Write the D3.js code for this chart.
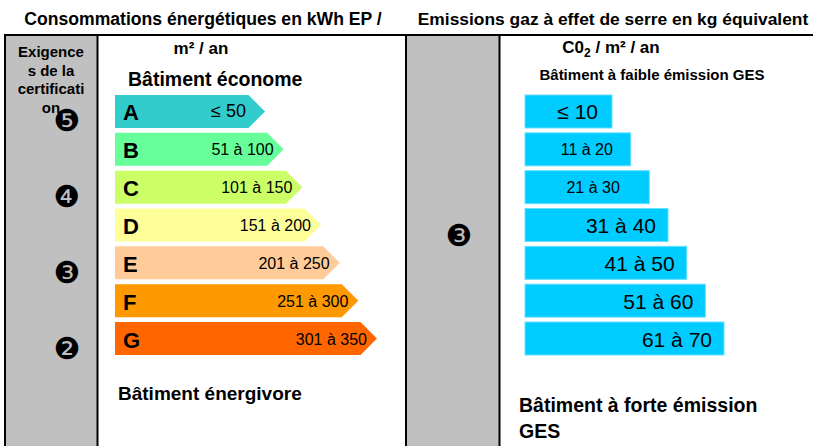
<!DOCTYPE html>
<html>
<head>
<meta charset="utf-8">
<script src="https://cdn.jsdelivr.net/npm/d3@7"></script>
<style>
  body { margin: 0; background: #fff; }
  svg { display: block; font-family: "Liberation Sans", Arial, sans-serif; }
</style>
</head>
<body>
<div id="chart"></div>
<script>
// Energy classes (kWh EP / m² / an)
const energyClasses = ["A", "B", "C", "D", "E", "F", "G"];
const energyUpper = [50, 100, 150, 200, 250, 300, 350];
const energyLabels = ["≤ 50", "51 à 100", "101 à 150", "151 à 200", "201 à 250", "251 à 300", "301 à 350"];

// GES classes (kg équivalent CO2 / m² / an)
const gesUpper = [10, 20, 30, 40, 50, 60, 70];
const gesLabels = ["≤ 10", "11 à 20", "21 à 30", "31 à 40", "41 à 50", "51 à 60", "61 à 70"];

// Certification requirements (circled numbers) and the class they sit against
const certEnergy = [{ mark: "❺", cls: "A" }, { mark: "❹", cls: "C" }, { mark: "❸", cls: "E" }, { mark: "❷", cls: "G" }];
const certGes = [{ mark: "❸", cls: "D" }];

const width = 813, height = 446;

const svg = d3.select("#chart")
    .append("svg")
    .attr("width", width)
    .attr("height", height);

// Palette
const color = d3.scaleOrdinal()
    .domain(energyClasses)
    .range(["#33CCCC", "#66FF99", "#CCFF66", "#FFFF99", "#FFCC99", "#FF9900", "#FF6600"]);

// Scales
const y = d3.scaleBand()
    .domain(energyClasses)
    .range([95, 355])
    .paddingInner(0.128)
    .paddingOuter(0);

const xE = d3.scaleLinear().domain([50, 350]).range([265, 377]);
const xG = d3.scaleLinear().domain([10, 70]).range([612, 724]);
const eLeft = 115, gLeft = 525;

// Grey columns
svg.append("rect").attr("x", 5).attr("y", 35).attr("width", 92).attr("height", height).attr("fill", "#C0C0C0");
svg.append("rect").attr("x", 407).attr("y", 35).attr("width", 92).attr("height", height).attr("fill", "#C0C0C0");

// Frame lines
const lines = [
    [4, 35, 813, 35],
    [5, 35, 5, height],
    [97.5, 35, 97.5, height],
    [406, 35, 406, height],
    [499.5, 35, 499.5, height]
];
svg.selectAll(".frame")
    .data(lines)
    .join("line")
    .attr("x1", d => d[0]).attr("y1", d => d[1])
    .attr("x2", d => d[2]).attr("y2", d => d[3])
    .attr("stroke", "#000")
    .attr("stroke-width", 2);

// Titles
function label(x, yy, txt, size, anchor) {
    return svg.append("text")
        .attr("x", x).attr("y", yy)
        .attr("text-anchor", anchor || "middle")
        .attr("font-weight", "bold")
        .attr("font-size", size)
        .attr("fill", "#000")
        .text(txt);
}
label(203, 25, "Consommations énergétiques en kWh EP /", 17.6);
label(201, 54, "m² / an", 17);
label(613, 25, "Emissions gaz à effet de serre en kg équivalent", 17.4);
const co2 = label(611, 53, "C0", 17);
co2.append("tspan").attr("font-size", 12).attr("dy", 4).text("2");
co2.append("tspan").attr("dy", -4).text(" / m² / an");
label(128, 86, "Bâtiment économe", 19.5, "start");
label(652, 80, "Bâtiment à faible émission GES", 15);
label(118, 400, "Bâtiment énergivore", 19, "start");
label(519, 412, "Bâtiment à forte émission", 19.5, "start");
label(519, 438, "GES", 19.5, "start");

// "Exigences de la certification" header
["Exigence", "s de la", "certificati", "on"].forEach((t, i) => {
    label(51, 57 + i * 18.5, t, 15);
});

// Energy arrows
const eData = energyClasses.map((c, i) => ({ cls: c, upper: energyUpper[i], label: energyLabels[i] }));
const depth = y.bandwidth() / 2;

svg.selectAll(".energy")
    .data(eData)
    .join("path")
    .attr("class", "energy")
    .attr("fill", d => color(d.cls))
    .attr("d", d => {
        const y0 = y(d.cls), y1 = y0 + y.bandwidth(), tip = xE(d.upper);
        return `M${eLeft},${y0}L${tip - depth},${y0}L${tip},${(y0 + y1) / 2}L${tip - depth},${y1}L${eLeft},${y1}Z`;
    });

svg.selectAll(".eLetter")
    .data(eData)
    .join("text")
    .attr("class", "eLetter")
    .attr("x", eLeft + 8)
    .attr("y", d => y(d.cls) + y.bandwidth() / 2 + 9)
    .attr("font-weight", "bold")
    .attr("font-size", 22)
    .text(d => d.cls);

svg.selectAll(".eRange")
    .data(eData)
    .join("text")
    .attr("class", "eRange")
    .attr("text-anchor", "end")
    .attr("x", (d, i) => xE(d.upper) - (i === 0 ? 19 : 10))
    .attr("y", (d, i) => y(d.cls) + y.bandwidth() / 2 + 6)
    .attr("font-size", (d, i) => i === 0 ? 18 : 16)
    .text(d => d.label);

// GES bars
const gData = energyClasses.map((c, i) => ({ cls: c, upper: gesUpper[i], label: gesLabels[i] }));

svg.selectAll(".ges")
    .data(gData)
    .join("rect")
    .attr("class", "ges")
    .attr("x", gLeft)
    .attr("y", d => y(d.cls))
    .attr("width", d => xG(d.upper) - gLeft)
    .attr("height", y.bandwidth())
    .attr("fill", "#00CCFF")
    .attr("stroke", "#66E0FF")
    .attr("stroke-width", 1);

svg.selectAll(".gRange")
    .data(gData)
    .join("text")
    .attr("class", "gRange")
    .attr("text-anchor", (d, i) => (i === 1 || i === 2) ? "middle" : "end")
    .attr("x", (d, i) => {
        const r = xG(d.upper);
        if (i === 1 || i === 2) return (gLeft + r) / 2 + 9 - (i - 1) * 3;
        return r - (i === 0 ? 14 : 12);
    })
    .attr("y", (d, i) => y(d.cls) + y.bandwidth() / 2 + ((i === 1 || i === 2) ? 6 : 8))
    .attr("font-size", (d, i) => (i === 1 || i === 2) ? 16 : 21)
    .text(d => d.label);

// Certification marks
svg.selectAll(".certE")
    .data(certEnergy)
    .join("text")
    .attr("class", "certE")
    .attr("x", 67)
    .attr("y", d => y(d.cls) + y.bandwidth() / 2 + 20)
    .attr("text-anchor", "middle")
    .attr("font-family", "DejaVu Sans")
    .attr("font-size", 30)
    .text(d => d.mark);

svg.selectAll(".certG")
    .data(certGes)
    .join("text")
    .attr("class", "certG")
    .attr("x", 459)
    .attr("y", d => y(d.cls) + y.bandwidth() / 2 + 21)
    .attr("text-anchor", "middle")
    .attr("font-family", "DejaVu Sans")
    .attr("font-size", 30)
    .text(d => d.mark);
</script>
</body>
</html>
